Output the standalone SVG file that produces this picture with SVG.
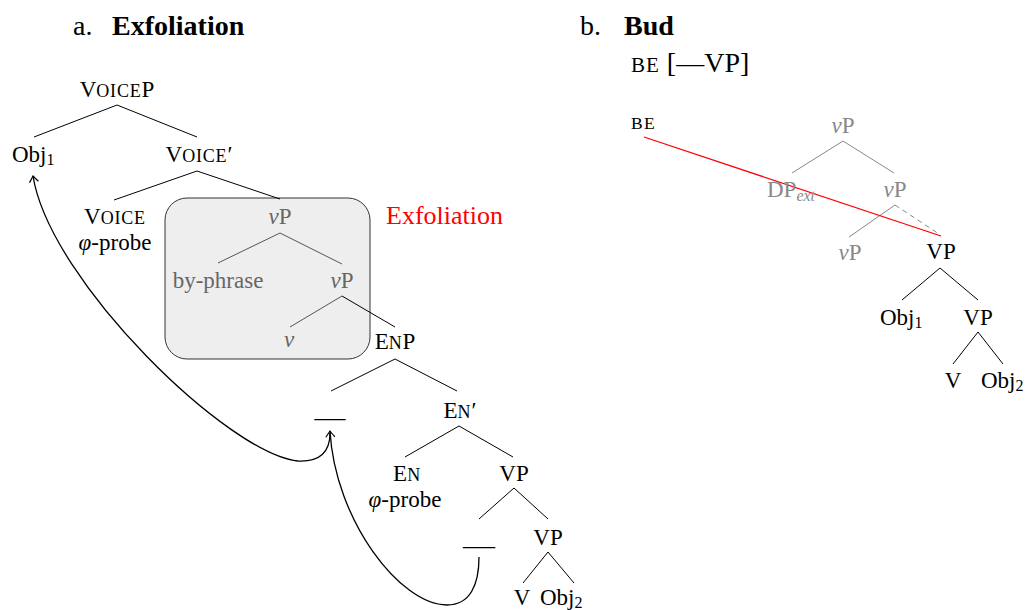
<svg xmlns="http://www.w3.org/2000/svg" width="1026" height="610" viewBox="0 0 1026 610">
<style>
text{font-family:"Liberation Serif","Times New Roman",Times,serif;font-size:23px;fill:#000}
.t{font-size:28px}
.b{font-weight:bold}
.m{text-anchor:middle}
.sc{font-size:18px;letter-spacing:0.8px}
.sub{font-size:16px}
.it{font-style:italic}
.g1{fill:#666}
.g2{fill:#888}
.red{fill:#ff0000;font-size:26px}
.be{font-size:17.5px;letter-spacing:1.3px}
.e{stroke:#000;stroke-width:1;fill:none}
.e1{stroke:#555;stroke-width:1;fill:none}
.e2{stroke:#888;stroke-width:1;fill:none}
.mv{stroke:#000;stroke-width:1.3;fill:none}
</style>
<defs>
<marker id="ah" markerUnits="userSpaceOnUse" markerWidth="14" markerHeight="14" refX="0" refY="0" viewBox="-8 -7 10 14" orient="auto">
<path d="M-6,-4.5 Q-1.5,-1 0,0 Q-1.5,1 -6,4.5" fill="none" stroke="#000" stroke-width="1.2"/>
</marker>
</defs>
<rect width="1026" height="610" fill="#fff"/>

<g id="titles">
<text class="t" x="73" y="35">a.</text>
<text class="t b" x="112" y="35">Exfoliation</text>
<text class="t" x="580" y="35">b.</text>
<text class="t b" x="624" y="35">Bud</text>
<text class="t" x="631" y="72"><tspan style="font-size:21px;letter-spacing:1px">BE</tspan> [—VP]</text>
</g>

<g id="box">
<rect x="165" y="198" width="205" height="161" rx="22" ry="22" fill="#eeeeee" stroke="#333" stroke-width="1"/>
<text class="red" x="386" y="224">Exfoliation</text>
</g>

<g id="connectors">
<line class="e" x1="117" y1="105" x2="34" y2="137"/>
<line class="e" x1="117" y1="105" x2="197" y2="137"/>
<line class="e" x1="197" y1="171" x2="114" y2="200"/>
<line class="e" x1="197" y1="171" x2="280" y2="199"/>
<line class="e1" x1="280" y1="233" x2="218" y2="263"/>
<line class="e1" x1="280" y1="233" x2="342" y2="264"/>
<line class="e1" x1="342" y1="296" x2="290" y2="327"/>
<line class="e" x1="342" y1="296" x2="395" y2="327"/>
<line class="e" x1="395" y1="359" x2="331" y2="391"/>
<line class="e" x1="395" y1="359" x2="457" y2="391"/>
<line class="e" x1="459" y1="426" x2="405" y2="457"/>
<line class="e" x1="459" y1="426" x2="513" y2="457"/>
<line class="e" x1="514" y1="488" x2="479" y2="519"/>
<line class="e" x1="514" y1="488" x2="548" y2="519"/>
<line class="e" x1="548" y1="552" x2="523" y2="583"/>
<line class="e" x1="548" y1="552" x2="574" y2="583"/>
<path class="mv" d="M330,433 C330,452 320,462 298,461 C230,455 50,282 33,176" marker-end="url(#ah)"/>
<path class="mv" d="M479,557 C479,585 470,605 447,605 C400,605 335,520 330,431" marker-end="url(#ah)"/>

<line class="e2" x1="843" y1="141" x2="792" y2="173"/>
<line class="e2" x1="843" y1="141" x2="894" y2="173"/>
<line class="e2" x1="895" y1="205" x2="849" y2="237"/>
<line class="e2" x1="895" y1="205" x2="939" y2="234" stroke-dasharray="5 4"/>
<line stroke="#ff0000" stroke-width="1.3" x1="644" y1="137" x2="941" y2="236"/>
<line class="e" x1="940" y1="268" x2="902" y2="300"/>
<line class="e" x1="940" y1="268" x2="978" y2="300"/>
<line class="e" x1="978" y1="332" x2="953" y2="364"/>
<line class="e" x1="978" y1="332" x2="1003" y2="364"/>
</g>

<g id="n-voiceP"><text class="m" x="117" y="97">V<tspan class="sc">OICE</tspan>P</text></g>
<g id="n-obj1a"><text x="12" y="162">Obj<tspan class="sub" dy="3">1</tspan></text></g>
<g id="n-voicebar"><text class="m" x="199" y="162">V<tspan class="sc">OICE</tspan>′</text></g>
<g id="n-voice"><text class="m" x="115" y="224">V<tspan class="sc">OICE</tspan></text><text class="m" x="115" y="250"><tspan class="it">φ</tspan>-probe</text></g>
<g id="n-vP1"><text class="m g1" x="280" y="224"><tspan class="it">v</tspan>P</text></g>
<g id="n-byphrase"><text class="m g1" x="218" y="288">by-phrase</text></g>
<g id="n-vP2"><text class="m g1" x="342" y="288"><tspan class="it">v</tspan>P</text></g>
<g id="n-v"><text class="m g1 it" x="289" y="347">v</text></g>
<g id="n-EnP"><text class="m" x="395" y="349">E<tspan class="sc">N</tspan>P</text></g>
<g id="n-trace1"><text class="m" x="330" y="425" textLength="31" lengthAdjust="spacingAndGlyphs">—</text></g>
<g id="n-Enbar"><text class="m" x="460" y="418">E<tspan class="sc">N</tspan>′</text></g>
<g id="n-En"><text class="m" x="407" y="481">E<tspan class="sc">N</tspan></text><text class="m" x="405" y="507"><tspan class="it">φ</tspan>-probe</text></g>
<g id="n-VP1"><text class="m" x="514" y="481">VP</text></g>
<g id="n-trace2"><text class="m" x="479" y="553" textLength="32" lengthAdjust="spacingAndGlyphs">—</text></g>
<g id="n-VP2"><text class="m" x="548" y="545">VP</text></g>
<g id="n-V"><text class="m" x="522" y="605">V</text></g>
<g id="n-obj2a"><text x="540" y="605">Obj<tspan class="sub" dy="3">2</tspan></text></g>

<g id="n-be"><text class="be" x="631" y="129">BE</text></g>
<g id="n-vPb1"><text class="m g2" x="843" y="133"><tspan class="it">v</tspan>P</text></g>
<g id="n-DPext"><text class="g2" x="767" y="197">DP<tspan class="sub it" dy="4">ext</tspan></text></g>
<g id="n-vPb2"><text class="m g2" x="895" y="197"><tspan class="it">v</tspan>P</text></g>
<g id="n-vPb3"><text class="m g2" x="850" y="260"><tspan class="it">v</tspan>P</text></g>
<g id="n-VPb1"><text class="m" x="941" y="259">VP</text></g>
<g id="n-obj1b"><text x="880" y="325">Obj<tspan class="sub" dy="3">1</tspan></text></g>
<g id="n-VPb2"><text class="m" x="978" y="325">VP</text></g>
<g id="n-Vb"><text class="m" x="953" y="388">V</text></g>
<g id="n-obj2b"><text x="981" y="388">Obj<tspan class="sub" dy="3">2</tspan></text></g>
</svg>
